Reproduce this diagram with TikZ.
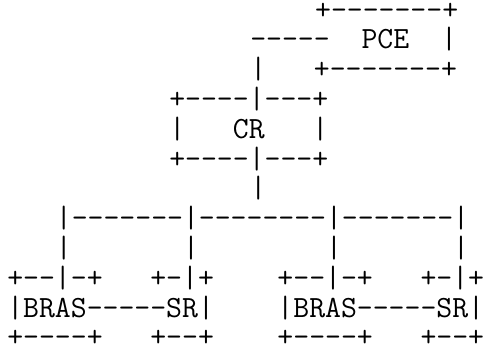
\documentclass[tikz,border=0pt]{standalone}
\usepackage{fontspec}

\begin{document}
\begin{tikzpicture}[
    x=8.1pt,
    y=-14.9pt,
    every node/.style={inner sep=0pt, outer sep=0pt, anchor=base west},
    ascii/.style={font=\ttfamily\fontsize{15.43}{17}\selectfont}
]
    \useasboundingbox (-0.45,-0.64) rectangle (29.61,11.01);

    % PCE box and its link
    \node (pce_top)  [ascii] at (19,0) {+-------+};
    \node (pce_link) [ascii] at (15,1) {-----~~PCE~~|};
    \node (pce_bot)  [ascii] at (15,2) {|~~~+-------+};

    % CR box
    \node (cr_top)  [ascii] at (10,3) {+----|---+};
    \node (cr_mid)  [ascii] at (10,4) {|~~~CR~~~|};
    \node (cr_bot)  [ascii] at (10,5) {+----|---+};
    \node (cr_down) [ascii] at (15,6) {|};

    % Bus to the access boxes
    \node (bus)   [ascii] at (3,7) {|-------|--------|-------|};
    \node (drops) [ascii] at (3,8) {|~~~~~~~|~~~~~~~~|~~~~~~~|};

    % BRAS and SR boxes
    \node (bras_top) [ascii] at (0,9)  {+--|-+~~~+-|+~~~~+--|-+~~~+-|+};
    \node (bras_mid) [ascii] at (0,10) {|BRAS-----SR|~~~~|BRAS-----SR|};
    \node (bras_bot) [ascii] at (0,11) {+----+~~~+--+~~~~+----+~~~+--+};

\end{tikzpicture}
\end{document}
